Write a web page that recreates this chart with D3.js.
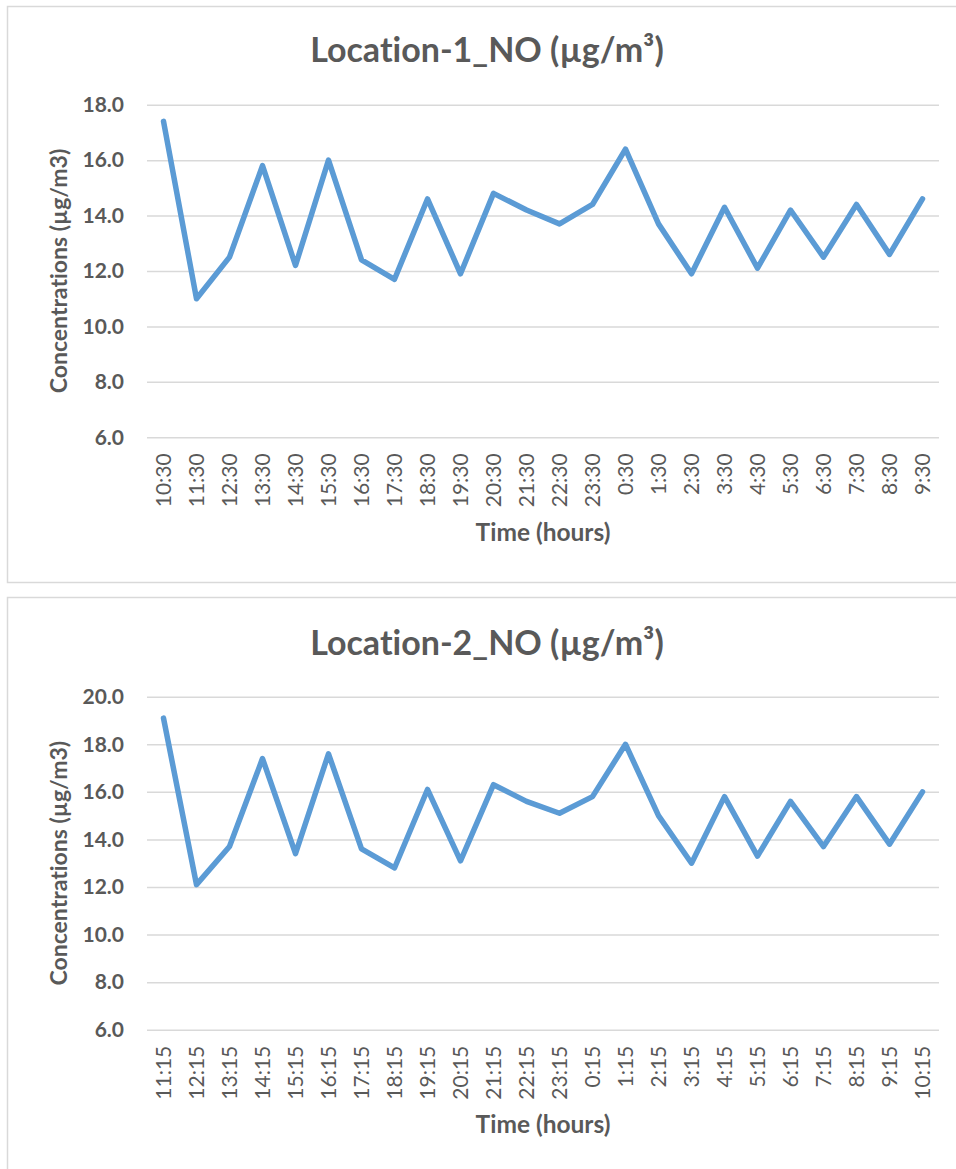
<!DOCTYPE html>
<html>
<head>
<meta charset="utf-8">
<script src="https://cdn.jsdelivr.net/npm/d3@7/dist/d3.min.js"></script>
<style>
  html, body { margin: 0; padding: 0; background: #fff; }
  svg { display: block; }
  text { font-family: Lato, "Open Sans", "Liberation Sans", sans-serif; font-variant-ligatures: none; }
</style>
</head>
<body>
<svg id="chart" width="956" height="1169"></svg>
<script>
// Location 1 hourly NO readings
const loc1Times = ["10:30","11:30","12:30","13:30","14:30","15:30","16:30","17:30","18:30","19:30",
  "20:30","21:30","22:30","23:30","0:30","1:30","2:30","3:30","4:30","5:30","6:30","7:30","8:30","9:30"];
const loc1NO = [17.4, 11.0, 12.5, 15.8, 12.2, 16.0, 12.4, 11.7, 14.6, 11.9,
  14.8, 14.2, 13.7, 14.4, 16.4, 13.7, 11.9, 14.3, 12.1, 14.2, 12.5, 14.4, 12.6, 14.6];
const loc1Ticks = [6, 8, 10, 12, 14, 16, 18];

// Location 2 hourly NO readings
const loc2Times = ["11:15","12:15","13:15","14:15","15:15","16:15","17:15","18:15","19:15","20:15",
  "21:15","22:15","23:15","0:15","1:15","2:15","3:15","4:15","5:15","6:15","7:15","8:15","9:15","10:15"];
const loc2NO = [19.1, 12.1, 13.7, 17.4, 13.4, 17.6, 13.6, 12.8, 16.1, 13.1,
  16.3, 15.6, 15.1, 15.8, 18.0, 15.0, 13.0, 15.8, 13.3, 15.6, 13.7, 15.8, 13.8, 16.0];
const loc2Ticks = [6, 8, 10, 12, 14, 16, 18, 20];

const svg = d3.select("#chart");
const TEXT = "#595959", GRID = "#D9D9D9", LINE = "#5B9BD5";

function drawChart(cfg) {
  const g = svg.append("g").attr("transform", `translate(0,${cfg.top})`);

  // chart frame
  g.append("rect")
    .attr("x", 7.5).attr("y", 0.5)
    .attr("width", 960).attr("height", cfg.frameH)
    .attr("fill", "#fff").attr("stroke", GRID).attr("stroke-width", 1.5);

  const plot = { left: 147, right: 939, top: cfg.plotTop, bottom: cfg.plotBottom };

  const x = d3.scaleBand().domain(cfg.times).range([plot.left, plot.right]);
  const y = d3.scaleLinear().domain(d3.extent(cfg.ticks)).range([plot.bottom, plot.top]);

  // horizontal gridlines
  g.append("g")
    .attr("transform", `translate(${plot.left},0)`)
    .call(d3.axisLeft(y).tickValues(cfg.ticks).tickSize(-(plot.right - plot.left)).tickFormat(""))
    .call(a => a.select(".domain").remove())
    .call(a => a.selectAll("line").attr("stroke", GRID).attr("stroke-width", 1.5));

  // y tick labels
  g.append("g")
    .attr("transform", `translate(124,0)`)
    .call(d3.axisLeft(y).tickValues(cfg.ticks).tickSize(0).tickPadding(0).tickFormat(d3.format(".1f")))
    .call(a => a.select(".domain").remove())
    .call(a => a.selectAll("text")
      .attr("fill", TEXT).attr("font-size", 21).attr("font-weight", "bold")
      .attr("font-family", "Lato, sans-serif"));

  // x tick labels, rotated
  g.append("g")
    .attr("transform", `translate(0,${plot.bottom + 16})`)
    .call(d3.axisBottom(x).tickSize(0).tickPadding(0))
    .call(a => a.select(".domain").remove())
    .call(a => a.selectAll("text")
      .attr("fill", TEXT).attr("font-size", 21)
      .attr("font-family", "Lato, sans-serif")
      .attr("text-anchor", "end")
      .attr("transform", "rotate(-90)")
      .attr("x", 0).attr("y", 0).attr("dy", "0.36em"));

  // series line
  const line = d3.line()
    .x((d, i) => x(cfg.times[i]) + x.bandwidth() / 2)
    .y(d => y(d));
  g.append("path")
    .datum(cfg.values)
    .attr("d", line)
    .attr("fill", "none")
    .attr("stroke", LINE)
    .attr("stroke-width", 5.5)
    .attr("stroke-linejoin", "round")
    .attr("stroke-linecap", "round");

  // title
  g.append("text")
    .attr("x", 487).attr("y", cfg.titleY)
    .attr("text-anchor", "middle")
    .attr("fill", TEXT).attr("font-size", 34).attr("font-weight", "bold")
    .text(cfg.title);

  // axis titles
  g.append("text")
    .attr("transform", `translate(67,${(plot.top + plot.bottom) / 2}) rotate(-90)`)
    .attr("text-anchor", "middle")
    .attr("fill", TEXT).attr("font-size", 23).attr("font-weight", "bold")
    .text("Concentrations (µg/m3)");

  g.append("text")
    .attr("x", (plot.left + plot.right) / 2).attr("y", cfg.xTitleY)
    .attr("text-anchor", "middle")
    .attr("fill", TEXT).attr("font-size", 24.5).attr("font-weight", "bold")
    .text("Time (hours)");
}

drawChart({
  top: 6, frameH: 576, plotTop: 98.7, plotBottom: 431.3, titleY: 56, xTitleY: 535,
  title: "Location-1_NO (µg/m³)", times: loc1Times, values: loc1NO, ticks: loc1Ticks
});
drawChart({
  top: 597, frameH: 600, plotTop: 99.7, plotBottom: 432.7, titleY: 58, xTitleY: 536,
  title: "Location-2_NO (µg/m³)", times: loc2Times, values: loc2NO, ticks: loc2Ticks
});
</script>
</body>
</html>
